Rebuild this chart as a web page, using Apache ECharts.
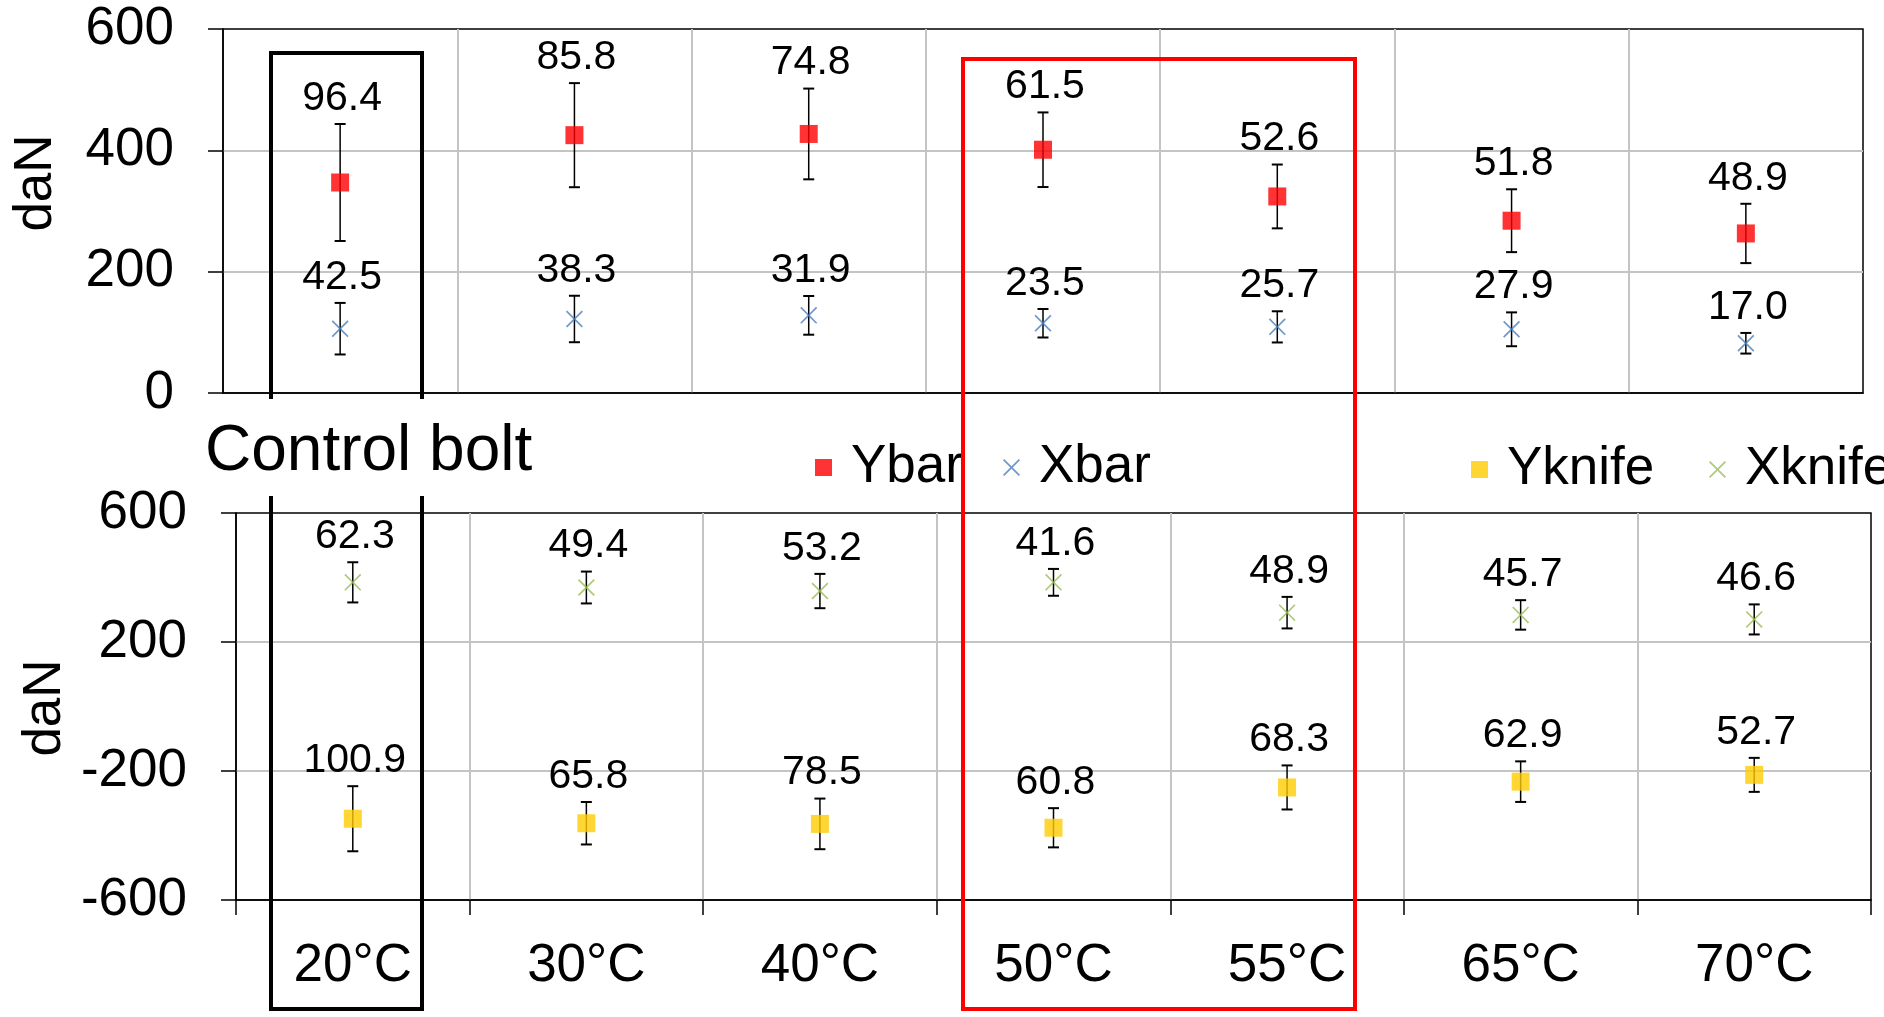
<!DOCTYPE html>
<html>
<head>
<meta charset="utf-8">
<title>Bolt load by temperature</title>
<script src="https://cdn.jsdelivr.net/npm/echarts@6/dist/echarts.min.js"></script>
<style>
  html, body { margin: 0; padding: 0; background: #fff; }
  #chart { width: 1884px; height: 1017px; }
</style>
</head>
<body>
<div id="chart"></div>
<script>
// Temperature groups on the shared category axis
const categories = ['20°C', '30°C', '40°C', '50°C', '55°C', '65°C', '70°C'];

// Upper panel: bar direction loads (mean and spread, daN)
const ybarMean = [347, 425, 427, 401, 324, 284, 263];
const ybarErr  = [96.4, 85.8, 74.8, 61.5, 52.6, 51.8, 48.9];
const xbarMean = [106, 122, 128, 115, 109, 105, 82];
const xbarErr  = [42.5, 38.3, 31.9, 23.5, 25.7, 27.9, 17.0];

// Lower panel: knife direction loads (mean and spread, daN)
const xknifeMean = [385, 369, 358, 385, 291, 284, 270];
const xknifeErr  = [62.3, 49.4, 53.2, 41.6, 48.9, 45.7, 46.6];
const yknifeMean = [-348, -362, -364, -376, -251, -233, -212];
const yknifeErr  = [100.9, 65.8, 78.5, 60.8, 68.3, 62.9, 52.7];

// Value-axis tick labels for each panel
const topTicks = [0, 200, 400, 600];
const bottomTicks = [-600, -200, 200, 600];

const FONT = "'Liberation Sans', Arial, sans-serif";
const crossPath = 'path://M0,0.7L0.7,0L5,4.3L9.3,0L10,0.7L5.7,5L10,9.3L9.3,10L5,5.7L0.7,10L0,9.3L4.3,5Z';

const COLORS = { ybar: '#ff0000', xbar: '#4a7ebb', yknife: '#ffcc00', xknife: '#9bbb59' };

function errData(means, errs) {
  return means.map((m, i) => [i, m, errs[i]]);
}

// Error bar with caps and the spread value written above it
function renderErrorBar(params, api) {
  const idx = api.value(0);
  const mean = api.value(1);
  const err = api.value(2);
  const top = api.coord([idx, mean + err]);
  const bot = api.coord([idx, mean - err]);
  const cx = top[0];
  const half = 5.5;
  return {
    type: 'group',
    children: [
      { type: 'line', shape: { x1: cx, y1: top[1], x2: cx, y2: bot[1] }, style: { stroke: '#000', lineWidth: 1.5 } },
      { type: 'line', shape: { x1: cx - half, y1: top[1], x2: cx + half, y2: top[1] }, style: { stroke: '#000', lineWidth: 2 } },
      { type: 'line', shape: { x1: cx - half, y1: bot[1], x2: cx + half, y2: bot[1] }, style: { stroke: '#000', lineWidth: 2 } },
      { type: 'text', x: cx + 2, y: top[1] - 5,
        style: { text: err.toFixed(1), fontSize: 41, fontFamily: FONT, fill: '#000', align: 'center', verticalAlign: 'bottom' } }
    ]
  };
}

function valueAxis(gridIndex, ticks) {
  return {
    type: 'value',
    gridIndex: gridIndex,
    min: ticks[0],
    max: ticks[ticks.length - 1],
    interval: ticks[1] - ticks[0],
    axisLine: { show: true, onZero: false, lineStyle: { color: '#000', width: 1.5 } },
    axisTick: { show: true, inside: false, length: 15, lineStyle: { color: '#000', width: 1.5 } },
    axisLabel: { fontSize: 53, fontFamily: FONT, color: '#000', margin: 49 },
    splitLine: { show: true, showMinLine: false, showMaxLine: false, lineStyle: { color: '#c4c4c4', width: 2 } }
  };
}

function categoryAxis(gridIndex, showLabels) {
  return {
    type: 'category',
    gridIndex: gridIndex,
    data: categories,
    boundaryGap: true,
    axisLine: { show: true, onZero: false, lineStyle: { color: '#000', width: 1.5 } },
    axisTick: { show: showLabels, inside: false, length: 15, alignWithLabel: false, lineStyle: { color: '#000', width: 1.5 } },
    axisLabel: { show: showLabels, fontSize: 53, fontFamily: FONT, color: '#000', margin: 40 },
    splitLine: { show: true, showMinLine: false, showMaxLine: false, lineStyle: { color: '#c4c4c4', width: 2 } }
  };
}

// One legend entry per block so each sits where its label belongs
function legendEntry(name, icon, left, top) {
  return {
    left: left, top: top, padding: 0, itemWidth: 17, itemHeight: 17,
    selectedMode: false,
    textStyle: { fontSize: 53, fontFamily: FONT, color: '#000', padding: [0, 0, 0, 14] },
    data: [{ name: name, icon: icon }]
  };
}

const chart = echarts.init(document.getElementById('chart'), null, { renderer: 'canvas' });

const option = {
  backgroundColor: '#fff',
  animation: false,
  textStyle: { fontFamily: FONT },
  grid: [
    { left: 223, top: 29, width: 1640, height: 364, show: true, borderColor: '#000', borderWidth: 1.5, backgroundColor: 'transparent' },
    { left: 236, top: 513, width: 1635, height: 387, show: true, borderColor: '#000', borderWidth: 1.5, backgroundColor: 'transparent' }
  ],
  xAxis: [categoryAxis(0, false), categoryAxis(1, true)],
  yAxis: [valueAxis(0, topTicks), valueAxis(1, bottomTicks)],
  legend: [
    legendEntry('Ybar', 'rect', 815, 441),
    legendEntry('Xbar', crossPath, 1003, 441),
    legendEntry('Yknife', 'rect', 1471, 443),
    legendEntry('Xknife', crossPath, 1709, 443)
  ],
  series: [
    { name: 'Ybar spread', type: 'custom', xAxisIndex: 0, yAxisIndex: 0, renderItem: renderErrorBar,
      data: errData(ybarMean, ybarErr), encode: { x: 0, y: 1 }, z: 3 },
    { name: 'Xbar spread', type: 'custom', xAxisIndex: 0, yAxisIndex: 0, renderItem: renderErrorBar,
      data: errData(xbarMean, xbarErr), encode: { x: 0, y: 1 }, z: 3 },
    { name: 'Xknife spread', type: 'custom', xAxisIndex: 1, yAxisIndex: 1, renderItem: renderErrorBar,
      data: errData(xknifeMean, xknifeErr), encode: { x: 0, y: 1 }, z: 3 },
    { name: 'Yknife spread', type: 'custom', xAxisIndex: 1, yAxisIndex: 1, renderItem: renderErrorBar,
      data: errData(yknifeMean, yknifeErr), encode: { x: 0, y: 1 }, z: 3 },

    { name: 'Ybar', type: 'scatter', xAxisIndex: 0, yAxisIndex: 0, symbol: 'rect', symbolSize: 18,
      itemStyle: { color: COLORS.ybar }, data: ybarMean, z: 5 },
    { name: 'Xbar', type: 'scatter', xAxisIndex: 0, yAxisIndex: 0, symbol: crossPath, symbolSize: 17,
      itemStyle: { color: COLORS.xbar }, data: xbarMean, z: 5 },
    { name: 'Yknife', type: 'scatter', xAxisIndex: 1, yAxisIndex: 1, symbol: 'rect', symbolSize: 18,
      itemStyle: { color: COLORS.yknife }, data: yknifeMean, z: 5 },
    { name: 'Xknife', type: 'scatter', xAxisIndex: 1, yAxisIndex: 1, symbol: crossPath, symbolSize: 17,
      itemStyle: { color: COLORS.xknife }, data: xknifeMean, z: 5 }
  ],
  graphic: [
    // axis titles
    { type: 'text', x: 36, y: 183, rotation: Math.PI / 2,
      style: { text: 'daN', fontSize: 53, fontFamily: FONT, fill: '#000', align: 'center', verticalAlign: 'middle' } },
    { type: 'text', x: 45, y: 708, rotation: Math.PI / 2,
      style: { text: 'daN', fontSize: 53, fontFamily: FONT, fill: '#000', align: 'center', verticalAlign: 'middle' } },
    // highlight frames around the reference column and the 50–55 °C range
    { type: 'rect', z: 50, shape: { x: 271, y: 53, width: 151, height: 956 },
      style: { fill: 'none', stroke: '#000', lineWidth: 4 } },
    { type: 'rect', z: 50, shape: { x: 963, y: 59, width: 392, height: 950 },
      style: { fill: 'none', stroke: '#ff0000', lineWidth: 4 } },
    // caption for the reference column, on a white patch over the frame
    { type: 'rect', z: 51, shape: { x: 262, y: 399, width: 170, height: 97 },
      style: { fill: '#fff', stroke: 'none' } },
    { type: 'text', z: 52, x: 205, y: 452,
      style: { text: 'Control bolt', fontSize: 64, fontFamily: FONT, fill: '#000', align: 'left', verticalAlign: 'middle' } }
  ]
};

chart.setOption(option);
</script>
</body>
</html>
